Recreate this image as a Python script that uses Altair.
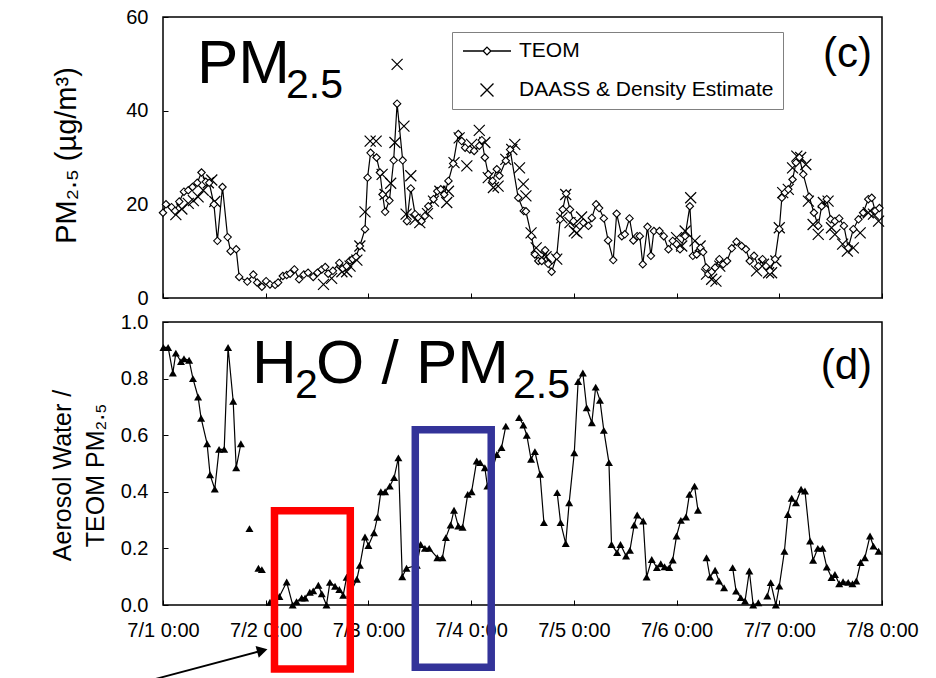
import altair as alt
import pandas as pd

FONT = "Liberation Sans"

# ---------------- data ----------------
day_ticks = [0, 24, 48, 72, 96, 120, 144, 168]
day_labels = ["7/1 0:00", "7/2 0:00", "7/3 0:00", "7/4 0:00",
              "7/5 0:00", "7/6 0:00", "7/7 0:00", "7/8 0:00"]
pm_ticks = [0, 20, 40, 60]
ratio_ticks = [0.0, 0.2, 0.4, 0.6, 0.8, 1.0]

teom_hours = [
    0.0, 0.7, 2.0, 2.8, 3.8, 4.9, 5.9, 6.9, 8.0, 9.0,
    10.0, 10.8, 11.9, 12.7, 13.9, 15.1, 15.8, 17.1, 17.8, 19.7,
    21.1, 22.0, 23.1, 24.1, 25.0, 26.2, 26.9, 28.0, 28.9, 29.7,
    30.7, 31.8, 32.9, 33.9, 35.1, 36.1, 37.1, 37.9, 38.6, 39.7,
    41.2, 42.0, 42.9, 43.7, 44.3, 45.1, 46.0, 47.2, 47.8, 48.5,
    49.9, 50.7, 51.3, 51.9, 52.9, 53.9, 54.7, 56.0, 57.0, 57.9,
    58.9, 59.7, 60.4, 61.2, 62.0, 63.2, 64.1, 64.9, 65.7, 66.7,
    67.8, 69.0, 69.8, 70.6, 71.7, 72.7, 73.9, 74.5, 75.2, 76.0,
    77.0, 78.0, 78.6, 80.1, 81.1, 83.0, 84.3, 84.8, 86.1, 86.9,
    87.7, 88.5, 89.3, 90.0, 90.8, 92.0, 92.8, 93.4, 94.2, 95.1,
    95.9, 96.7, 97.4, 98.2, 99.4, 100.2, 101.2, 101.9, 103.0, 104.0,
    105.2, 106.0, 107.2, 107.9, 109.0, 109.9, 110.8, 111.4, 112.1, 113.2,
    114.0, 114.7, 116.0, 117.0, 118.1, 119.1, 120.0, 120.8, 122.0, 123.1,
    123.8, 124.7, 125.6, 126.2, 126.9, 127.4, 128.2, 129.0, 130.0, 130.9,
    131.8, 132.9, 134.0, 135.2, 136.2, 137.1, 138.1, 139.1, 140.1, 140.9,
    141.8, 143.0, 144.0, 144.6, 145.3, 146.1, 147.1, 147.9, 148.7, 149.6,
    151.0, 152.1, 153.1, 153.9, 155.1, 156.0, 157.0, 158.0, 159.1, 160.1,
    161.3, 162.5, 163.6, 164.8, 165.6, 166.4, 167.4]
teom_pm = [
    18.2, 20.0, 19.4, 18.6, 20.6, 22.7, 23.0, 23.7, 24.6, 26.8,
    24.8, 24.6, 20.0, 12.2, 23.7, 13.0, 10.0, 10.4, 4.5, 3.5,
    5.0, 3.3, 2.4, 3.6, 2.9, 2.8, 3.3, 4.7, 4.9, 5.2,
    6.1, 4.0, 5.0, 5.4, 4.5, 5.4, 6.1, 6.6, 5.2, 5.8,
    7.5, 6.3, 6.8, 8.0, 8.3, 8.8, 11.1, 14.7, 25.7, 31.0,
    30.0, 26.8, 22.1, 18.4, 20.8, 29.4, 41.5, 29.4, 16.4, 23.4,
    17.9, 17.1, 16.4, 17.5, 19.6, 21.1, 22.8, 23.2, 22.1, 25.0,
    28.7, 35.0, 33.5, 32.1, 31.7, 31.4, 32.5, 33.7, 30.0, 26.4,
    25.0, 27.5, 26.1, 29.3, 31.7, 21.4, 18.6, 18.5, 13.2, 9.3,
    7.9, 7.9, 10.2, 7.3, 5.6, 9.0, 16.8, 18.9, 22.3, 18.9,
    16.4, 14.7, 15.4, 16.1, 15.4, 17.1, 20.0, 19.2, 17.0, 12.3,
    8.1, 18.0, 13.2, 13.6, 17.0, 12.3, 13.2, 13.2, 7.2, 15.2,
    9.0, 14.3, 14.3, 13.2, 10.4, 12.2, 11.5, 10.4, 13.2, 19.6,
    9.0, 9.3, 10.7, 9.8, 6.5, 5.1, 5.6, 6.5, 8.3, 7.2,
    7.9, 10.6, 12.0, 11.1, 10.4, 7.9, 9.0, 6.8, 8.3, 6.8,
    5.8, 8.3, 14.7, 21.4, 22.5, 23.2, 25.3, 28.9, 30.0, 26.4,
    21.6, 18.2, 15.4, 19.6, 21.1, 16.8, 16.4, 17.0, 15.4, 10.7,
    14.7, 16.8, 18.2, 21.1, 21.4, 18.6, 19.2]

daass_hours = [
    3.0, 4.4, 5.9, 7.1, 8.2, 9.4, 10.6, 11.4, 12.1,
    37.5, 39.4, 41.8, 42.9, 43.7, 45.3, 46.0, 47.2, 48.4, 49.8,
    51.2, 51.9, 53.2, 54.2, 54.7, 56.3, 56.8, 57.9, 58.9, 60.0,
    61.8, 63.2, 64.7, 66.3, 66.7, 68.0, 69.2, 71.0, 72.1, 73.9,
    75.2, 76.0, 77.2, 78.3, 80.1, 81.5, 82.2, 83.3, 84.2, 84.8,
    86.0, 87.2, 88.5, 89.5, 92.0, 93.2, 94.1, 95.1, 96.1, 96.7, 97.8,
    120.0, 121.2, 122.0, 123.3, 124.3, 125.5, 127.0, 128.2, 129.2, 130.1,
    138.7, 140.3, 141.5, 142.2, 143.2, 144.0, 144.8, 146.1, 147.1, 148.1,
    149.0, 150.2, 150.8, 151.9, 153.1, 154.3, 155.4, 156.2, 157.0, 158.8,
    159.9, 161.3, 162.9, 164.8, 166.0, 167.2]
daass_pm = [
    17.8, 19.0, 20.2, 20.8, 21.6, 23.0, 24.6, 25.2, 20.6,
    2.9, 4.2, 5.6, 5.6, 6.8, 8.1, 11.1, 18.4, 33.5, 33.5,
    26.4, 22.1, 24.5, 33.2, 49.9, 36.7, 17.9, 26.1, 16.8, 16.1,
    18.0, 20.7, 22.8, 20.4, 22.8, 28.9, 34.2, 28.2, 32.8, 35.8,
    33.2, 25.7, 23.6, 23.9, 29.6, 31.7, 32.8, 27.8, 24.3, 21.8,
    13.9, 10.7, 8.6, 8.8, 8.3, 17.1, 22.1, 16.1, 14.3, 13.9, 17.3,
    12.9, 11.1, 14.3, 21.4, 12.2, 11.1, 5.1, 4.0, 3.6, 6.8,
    5.8, 7.2, 5.4, 5.4, 7.9, 15.0, 22.5, 23.2, 27.8, 30.3,
    30.0, 28.5, 20.7, 15.7, 13.6, 20.4, 20.7, 15.0, 13.6, 11.5,
    10.0, 10.7, 13.9, 18.2, 17.9, 16.4]

# None marks a break in the line
ratio_hours = [
    0.1, 1.2, 2.3, 3.0, 4.2, 4.9, 6.1, 7.0, 8.2, 8.9, 10.3, 11.0, 12.1, 13.1,
    14.3, 15.2, 16.4, 17.1, 18.2, None,
    20.2, None,
    22.3, 23.1, None,
    25.0, 27.2, 28.9, 30.3, 31.2, 32.4, 33.2, 34.3, 35.1, 36.3,
    37.1, 38.2, 39.0, 40.2, 41.2, 42.1, 42.9, 43.7, 45.3, 46.0,
    47.2, 48.0, 49.3, 50.1, 50.9, 51.9, 53.0, 54.0, 55.0, 55.9,
    56.9, 59.3, 60.2, 61.2, 62.2, 64.1, 65.3, 66.1, 67.2, 68.0,
    69.0, 70.0, 71.2, 72.1, 73.3, 74.1, 75.2, 75.8, 78.0, 79.1, 80.1, None,
    83.2, 84.2, 85.0, 86.0, 86.9, 88.1, 89.0, None,
    92.1, 92.9, 94.1, 94.9, 96.1, 97.0, 98.1, 99.0, 100.2, 101.1,
    102.1, 103.0, 104.2, 104.8, 106.1, 106.9, 108.2, 109.1, 110.1, 110.8,
    112.2, 113.0, 114.2, 115.4, 116.3, 117.2, 118.3, 119.1, 120.0, 121.0,
    122.2, 123.0, 124.2, 125.0, None,
    127.0, 127.8, 129.0, 129.9, 131.1, None,
    133.1, 133.9, 135.0, 136.0, 137.0, 137.9, 139.1, None,
    141.2, 142.0, 143.2, 144.0, 145.2, 146.0, 146.9, 147.9, 149.1, 150.0,
    151.2, 151.9, 153.0, 154.1, 155.1, 156.2, 157.0, 158.0, 158.9, 160.1,
    161.1, 162.0, 163.0, 164.0, 165.2, 166.0, 167.2]
ratio_values = [
    0.91, 0.91, 0.82, 0.89, 0.86, 0.87, 0.865, 0.80, 0.735, 0.66, 0.57, 0.46, 0.41, 0.55,
    0.55, 0.91, 0.72, 0.485, 0.57, None,
    0.27, None,
    0.13, 0.125, None,
    0.01, 0.03, 0.081, 0.0, 0.012, 0.025, 0.025, 0.045, 0.05, 0.07,
    0.04, 0.0, 0.08, 0.066, 0.055, 0.034, 0.098, 0.04, 0.091, 0.14,
    0.24, 0.21, 0.255, 0.31, 0.40, 0.40, 0.42, 0.45, 0.52, 0.10,
    0.13, 0.14, 0.214, 0.20, 0.20, 0.167, 0.167, 0.238, 0.283, 0.335,
    0.279, 0.275, 0.391, 0.40, 0.509, 0.503, 0.485, 0.42, 0.532, 0.556, 0.632, None,
    0.662, 0.636, 0.60, 0.515, 0.542, 0.462, 0.291, None,
    0.397, 0.291, 0.217, 0.361, 0.538, 0.79, 0.82, 0.697, 0.644, 0.77,
    0.723, 0.617, 0.503, 0.214, 0.185, 0.214, 0.173, 0.193, 0.283, 0.318,
    0.297, 0.099, 0.161, 0.132, 0.146, 0.135, 0.132, 0.159, 0.244, 0.299,
    0.311, 0.391, 0.42, 0.335, None,
    0.167, 0.099, 0.123, 0.085, 0.061, None,
    0.132, 0.049, 0.026, 0.014, 0.12, 0.0, 0.008, None,
    0.032, 0.079, 0.0, 0.067, 0.19, 0.32, 0.377, 0.361, 0.409, 0.403,
    0.226, 0.158, 0.20, 0.20, 0.134, 0.097, 0.108, 0.075, 0.082, 0.08,
    0.075, 0.085, 0.15, 0.167, 0.244, 0.208, 0.19]

legend_labels = ["TEOM", "DAASS & Density Estimate"]

# highlight boxes (time in hours, ratio values) and the arrow
box_start = [26.05, 58.95]
box_end = [43.76, 76.69]
box_top = [0.333, 0.619]
box_bottom = [-0.226, -0.22]
box_colors = ["#ff0000", "#333399"]
arrow_hours = [-1.9, 23.2]
arrow_values = [-0.262, -0.161]

# ---------------- frames ----------------
teom_df = pd.DataFrame({"hours": teom_hours, "pm": teom_pm})
daass_df = pd.DataFrame({"hours": daass_hours, "pm": daass_pm})
rows, seg = [], 0
for h, v in zip(ratio_hours, ratio_values):
    if h is None or v is None:
        seg += 1
        continue
    rows.append({"hours": h, "ratio": v, "seg": seg})
ratio_df = pd.DataFrame(rows)
legend_df = pd.DataFrame({"hours": [day_ticks[0]] * 2, "pm": [pm_ticks[0]] * 2,
                          "series": legend_labels})
box_df = pd.DataFrame({"start": box_start, "end": box_end, "top": box_top,
                       "bottom": box_bottom, "color": box_colors})
arrow_df = pd.DataFrame({"x1": [arrow_hours[0]], "x2": [arrow_hours[1]],
                         "y1": [arrow_values[0]], "y2": [arrow_values[1]]})
one = pd.DataFrame({"k": [0]})

W, H_TOP, H_BOT = 719, 281, 283

label_expr = " : ".join(f"datum.value == {h} ? '{t}'"
                        for h, t in zip(day_ticks, day_labels)) + " : ''"

x_scale = alt.Scale(domain=[day_ticks[0], day_ticks[-1]], nice=False, zero=False)
pm_scale = alt.Scale(domain=[pm_ticks[0], pm_ticks[-1]], nice=False)
ratio_scale = alt.Scale(domain=[ratio_ticks[0], ratio_ticks[-1]], nice=False)


def x_axis(show_labels):
    return alt.Axis(values=day_ticks, labels=show_labels, labelExpr=label_expr,
                    labelPadding=15, labelOverlap=False, labelBound=False,
                    labelFlush=False,
                    ticks=True, tickSize=5, offset=-5,
                    domain=False, grid=False, title=None)


pm_axis = alt.Axis(values=pm_ticks, format="d", tickSize=5, offset=-5, domain=False,
                   grid=False, labelPadding=15, labelOverlap=False,
                   title="PM₂.₅   (µg/m³)",
                   titleFontSize=29, titleAngle=270, titleBaseline="middle",
                   titleAlign="center", titleX=-102, titleY=138)
ratio_axis = alt.Axis(values=ratio_ticks, format=".1f", tickSize=5, offset=-5,
                      domain=False, grid=False, labelPadding=15, labelOverlap=False,
                      title=["Aerosol Water /", "TEOM PM₂.₅"], titleFontSize=25,
                      titleLineHeight=33, titleAngle=270, titleBaseline="middle",
                      titleAlign="center", titleX=-105.5, titleY=153)

XT = alt.X("hours:Q", scale=x_scale, axis=x_axis(False))
YT = alt.Y("pm:Q", scale=pm_scale, axis=pm_axis)

teom_line = alt.Chart(teom_df).mark_line(color="black", strokeWidth=1.2).encode(x=XT, y=YT)
x_path = "M-1,-1L1,1M-1,1L1,-1"
daass_pts = alt.Chart(daass_df).mark_point(shape=x_path, filled=False, color="black",
                                           size=121, strokeWidth=1.2, opacity=1).encode(x=XT, y=YT)
teom_pts = alt.Chart(teom_df).mark_point(shape="diamond", filled=True, fill="white",
                                         stroke="black", strokeWidth=1.1, size=55,
                                         opacity=1).encode(x=XT, y=YT)

teom_legend_path = "M-1,0L-0.16,0M0.16,0L1,0M0,-0.16L0.16,0L0,0.16L-0.16,0Z"
daass_legend_path = "M-0.27,-0.27L0.27,0.27M-0.27,0.27L0.27,-0.27"
legend_layer = alt.Chart(legend_df).mark_point(opacity=0, filled=False, color="black").encode(
    x=XT, y=YT,
    shape=alt.Shape("series:N",
                    scale=alt.Scale(domain=legend_labels,
                                    range=[teom_legend_path, daass_legend_path]),
                    legend=alt.Legend(orient="none", legendX=289, legendY=15, title=None,
                                      padding=9, clipHeight=20, rowPadding=18,
                                      symbolSize=2304, symbolOffset=1, labelOffset=7,
                                      labelFont=FONT, labelFontSize=21, labelColor="black",
                                      labelLimit=500,
                                      strokeColor="#808080", fillColor="white",
                                      symbolStrokeColor="black", symbolStrokeWidth=1.3,
                                      symbolOpacity=1, symbolFillColor="white")))


def label(text, x, y, size, align="left"):
    return alt.Chart(one).mark_text(text=text, font=FONT, fontSize=size, align=align,
                                    baseline="alphabetic", color="black").encode(
        x=alt.value(x), y=alt.value(y))


top = alt.layer(
    teom_line, daass_pts, teom_pts, legend_layer,
    label("PM", 34, 66, 62), label("2.5", 123, 81, 41), label("(c)", 709, 50, 42, "right"),
).properties(width=W, height=H_TOP)

XB = alt.X("hours:Q", scale=x_scale, axis=x_axis(True))
YB = alt.Y("ratio:Q", scale=ratio_scale, axis=ratio_axis)

ratio_line = alt.Chart(ratio_df).mark_line(color="black", strokeWidth=1.2).encode(
    x=XB, y=YB, detail="seg:N")
ratio_pts = alt.Chart(ratio_df).mark_point(shape="triangle-up", filled=True, color="black",
                                           size=64, opacity=1).encode(x=XB, y=YB)
boxes = alt.Chart(box_df).mark_rect(filled=False, strokeWidth=7.5).encode(
    x=alt.X("start:Q", scale=x_scale, axis=x_axis(True)), x2="end:Q",
    y=alt.Y("top:Q", scale=ratio_scale, axis=ratio_axis), y2="bottom:Q",
    stroke=alt.Stroke("color:N", scale=None))
arrow = alt.Chart(arrow_df).mark_rule(color="black", strokeWidth=2).encode(
    x=alt.X("x1:Q", scale=x_scale, axis=x_axis(True)), x2="x2:Q",
    y=alt.Y("y1:Q", scale=ratio_scale, axis=ratio_axis), y2="y2:Q")
arrow_head = alt.Chart(arrow_df).mark_point(shape="triangle-right", angle=345, filled=True,
                                            color="black", size=150, opacity=1).encode(
    x=alt.X("x2:Q", scale=x_scale, axis=x_axis(True)),
    y=alt.Y("y2:Q", scale=ratio_scale, axis=ratio_axis))

bottom = alt.layer(
    ratio_line, ratio_pts, boxes, arrow, arrow_head,
    label("H", 89, 61, 62), label("2", 132, 76, 41), label("O / PM", 153, 61, 62),
    label("2.5", 350, 76, 41), label("(d)", 709, 57, 42, "right"),
).properties(width=W, height=H_BOT)

chart = alt.vconcat(top, bottom, spacing=24, bounds="flush").resolve_scale(
    x="independent", y="independent"
).properties(
    padding={"left": 49, "top": 6, "right": 5, "bottom": 0},
    background="white",
).configure_view(
    stroke="black", strokeWidth=1.5
).configure_axis(
    labelFont=FONT, labelFontSize=20, labelColor="black", tickColor="black",
    tickWidth=1, titleFont=FONT, titleColor="black", titleFontWeight="normal"
)

chart.save("out.html", embed_options={"renderer": "svg", "actions": False})
